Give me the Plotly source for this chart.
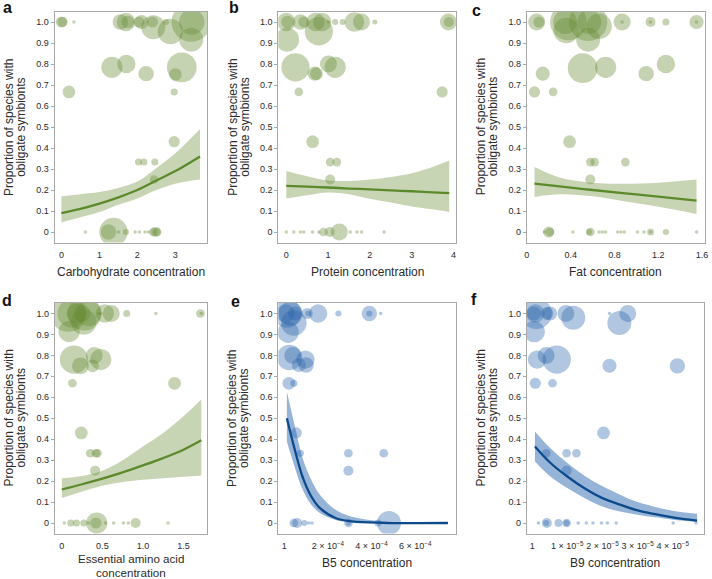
import plotly.graph_objects as go

W, H = 712, 579

# ---------------- data ----------------
# a: carbohydrate
a_x = [0.00, 0.03, 0.33, 1.55, 1.70, 1.75, 2.04, 2.11, 2.40, 2.42, 2.75, 2.87, 3.42, 3.43, 3.42,
       1.33, 1.71, 2.23, 3.17, 3.00, 0.20, 2.97, 2.97, 2.03, 2.17, 2.46, 2.44,
       1.24, 1.37, 1.70, 0.63, 1.50, 1.94, 2.05, 2.20, 2.29, 2.42, 2.48, 2.52]
a_y = [1.0, 1.0, 1.0, 1.0, 1.0, 1.0, 1.0, 1.0, 1.0, 0.975, 1.0, 0.955, 1.0, 1.0, 0.916,
       0.784, 0.80, 0.754, 0.784, 0.75, 0.667, 0.667, 0.43, 0.333, 0.333, 0.333, 0.25,
       0, 0, 0, 0, 0, 0, 0, 0, 0, 0, 0, 0]
a_n = [10, 8, 1, 19, 27, 13, 10, 16, 10, 46, 3, 52, 125, 52, 46,
       36, 27, 19, 71, 13, 13, 4, 10, 4, 4, 4, 6,
       19, 64, 3, 1, 1, 1, 1, 1, 1, 6, 8, 6]
a_fx = [0.0, 0.5, 1.0, 1.5, 2.0, 2.5, 3.0, 3.65]
a_fit = [0.09, 0.11, 0.135, 0.165, 0.20, 0.245, 0.29, 0.36]
a_lo = [0.045, 0.07, 0.095, 0.13, 0.16, 0.20, 0.23, 0.25]
a_hi = [0.17, 0.18, 0.19, 0.21, 0.24, 0.305, 0.375, 0.49]

# b: protein
b_x = [0.00, 0.03, 0.34, 0.42, 0.70, 0.86, 0.78, 1.01, 1.17, 1.35, 1.63, 1.80, 2.12, 3.88, 3.89,
       0.02, 0.22, 1.01, 1.17, 0.68, 0.72, 0.30, 3.73, 0.63, 1.05, 1.21, 1.05,
       0.89, 1.04, 1.27, 0.00, 0.18, 0.34, 0.42, 0.63, 0.78, 1.53, 1.69, 1.80, 2.34]
b_y = [1.0, 1.0, 1.0, 1.0, 1.0, 1.0, 0.956, 1.0, 1.0, 1.0, 1.0, 1.0, 1.0, 1.0, 1.0,
       0.916, 0.784, 0.80, 0.784, 0.754, 0.754, 0.667, 0.667, 0.43, 0.333, 0.333, 0.25,
       0, 0, 0, 0, 0, 0, 0, 0, 0, 0, 0, 0, 0]
b_n = [27, 13, 19, 10, 27, 27, 64, 1, 3, 3, 31, 23, 2, 23, 8,
       46, 64, 23, 36, 16, 13, 6, 10, 13, 6, 6, 8,
       6, 8, 23, 1, 1, 1, 1, 1, 1, 1, 1, 1, 1]
b_fx = [0.0, 0.5, 1.0, 1.5, 2.0, 2.5, 3.0, 3.5, 3.9]
b_fit = [0.22, 0.216, 0.212, 0.207, 0.203, 0.198, 0.194, 0.189, 0.185]
b_lo = [0.16, 0.175, 0.188, 0.18, 0.158, 0.14, 0.122, 0.108, 0.095]
b_hi = [0.29, 0.265, 0.245, 0.243, 0.25, 0.262, 0.28, 0.31, 0.34]

# c: fat
c_x = [0.09, 0.11, 0.35, 0.36, 0.38, 0.56, 0.57, 0.66, 0.56, 0.87, 0.87, 1.13, 1.13, 1.27, 1.55, 1.55,
       0.51, 0.72, 1.27, 1.09, 0.145, 0.07, 0.24, 0.39, 0.58, 0.62, 0.90, 0.58,
       0.20, 0.21, 0.58, 0.57, 1.13, 1.27,
       0.16, 0.42, 0.66, 0.69, 0.72, 0.83, 0.86, 0.89, 1.01, 1.07, 1.13, 1.55]
c_y = [1.0, 1.0, 1.0, 0.96, 1.0, 1.0, 1.0, 0.98, 0.916, 1.0, 1.0, 1.0, 1.0, 1.0, 1.0, 1.0,
       0.78, 0.784, 0.80, 0.754, 0.754, 0.667, 0.667, 0.43, 0.333, 0.333, 0.333, 0.25,
       0, 0, 0, 0, 0, 0,
       0, 0, 0, 0, 0, 0, 0, 0, 0, 0, 0, 0]
c_n = [23, 10, 46, 52, 108, 117, 46, 52, 46, 23, 1, 8, 1, 4, 16, 1,
       71, 36, 27, 19, 16, 10, 6, 13, 6, 6, 6, 8,
       10, 6, 6, 3, 4, 3,
       1, 1, 1, 1, 1, 1, 1, 1, 1, 1, 1, 1]
c_fx = [0.07, 0.3, 0.6, 0.9, 1.2, 1.55]
c_fit = [0.23, 0.217, 0.20, 0.184, 0.168, 0.149]
c_lo = [0.167, 0.18, 0.17, 0.145, 0.12, 0.086]
c_hi = [0.31, 0.26, 0.235, 0.23, 0.235, 0.25]

# d: essential amino acid
d_x = [0.08, 0.12, 0.18, 0.28, 0.33, 0.25, 0.27, 0.09, 0.48, 0.45, 0.53, 0.61, 0.80, 1.16, 1.71, 1.72,
       0.15, 0.23, 0.40, 0.48, 0.38, 0.13, 1.39, 0.24, 0.35, 0.42, 0.44, 0.41,
       0.11, 0.18, 0.27, 0.43, 0.42, 0.91, 0.03, 0.33, 0.54, 0.64, 0.76, 0.82, 1.31]
d_y = [1.0, 1.0, 1.0, 1.0, 1.0, 1.0, 0.96, 0.914, 1.0, 1.0, 1.0, 1.0, 1.0, 1.0, 1.0, 1.0,
       0.78, 0.75, 0.80, 0.78, 0.75, 0.667, 0.667, 0.43, 0.333, 0.333, 0.333, 0.25,
       0, 0, 0, 0, 0, 0, 0, 0, 0, 0, 0, 0, 0]
d_n = [108, 64, 31, 92, 52, 23, 52, 36, 1, 1, 27, 23, 4, 1, 6, 1,
       64, 23, 23, 36, 13, 6, 13, 13, 6, 6, 6, 8,
       4, 4, 4, 36, 10, 8, 1, 1, 1, 1, 1, 1, 1]
d_fx = [0.0, 0.25, 0.5, 0.75, 1.0, 1.25, 1.5, 1.72]
d_fit = [0.16, 0.185, 0.212, 0.242, 0.275, 0.31, 0.35, 0.395]
d_lo = [0.119, 0.15, 0.178, 0.196, 0.206, 0.214, 0.221, 0.227]
d_hi = [0.214, 0.225, 0.25, 0.30, 0.365, 0.43, 0.51, 0.59]

# e: B5
e_x = [0.06e-4, 0.14e-4, 0.29e-4, 0.44e-4, 0.50e-4, 1.05e-4, 1.10e-4, 1.55e-4, 2.48e-4, 3.90e-4, 3.90e-4, 4.42e-4, 0.18e-4,
       0.24e-4, 0.39e-4, 0.97e-4, 0.67e-4, 1.00e-4, 0.21e-4, 0.44e-4, 0.55e-4, 0.74e-4, 2.94e-4, 4.56e-4, 2.94e-4,
       0.44e-4, 0.59e-4, 0.92e-4, 1.12e-4, 1.27e-4, 2.94e-4, 2.94e-4, 4.30e-4, 4.80e-4]
e_y = [1.0, 1.0, 1.0, 0.955, 1.0, 1.0, 1.0, 1.0, 1.0, 1.0, 1.0, 1.0, 0.91,
       0.79, 0.80, 0.78, 0.754, 0.754, 0.667, 0.667, 0.43, 0.333, 0.333, 0.333, 0.25,
       0, 0, 0, 0, 0, 0, 0, 0, 0]
e_n = [27, 64, 46, 52, 16, 10, 3, 27, 3, 19, 3, 1, 36,
       52, 23, 27, 16, 19, 13, 4, 10, 4, 6, 6, 8,
       6, 8, 3, 1, 1, 6, 2, 4, 46]
e_fx = [0.12e-4, 0.47e-4, 0.84e-4, 1.22e-4, 1.6e-4, 2.35e-4, 3.1e-4, 4.5e-4, 7.5e-4]
e_fit = [0.50, 0.355, 0.22, 0.13, 0.075, 0.024, 0.008, 0.001, 0.0]
e_lo = [0.389, 0.27, 0.16, 0.09, 0.05, 0.014, 0.004, 0.0, 0.0]
e_hi = [0.627, 0.47, 0.31, 0.21, 0.14, 0.063, 0.03, 0.008, 0.001]

# f: B9
f_x = [0.05e-5, 0.09e-5, 0.12e-5, 0.42e-5, 0.51e-5, 0.96e-5, 1.17e-5, 2.20e-5, 2.72e-5, 2.48e-5, 0.06e-5,
       0.14e-5, 0.40e-5, 0.70e-5, 2.20e-5, 4.13e-5, 0.09e-5, 0.58e-5, 2.03e-5, 0.40e-5, 0.98e-5, 1.26e-5, 0.98e-5,
       0.42e-5, 0.40e-5, 0.75e-5, 0.98e-5, 0.98e-5,
       0.18e-5, 1.31e-5, 1.54e-5, 1.73e-5, 1.97e-5, 2.14e-5, 2.39e-5, 4.01e-5, 4.66e-5]
f_y = [1.0, 1.0, 1.0, 1.0, 1.0, 1.0, 0.98, 1.0, 1.0, 0.955, 0.913,
       0.78, 0.80, 0.78, 0.75, 0.75, 0.667, 0.667, 0.43, 0.333, 0.333, 0.333, 0.25,
       0, 0, 0, 0, 0,
       0, 0, 0, 0, 0, 0, 0, 0, 0]
f_n = [16, 27, 77, 13, 16, 23, 46, 1, 23, 46, 36,
       27, 23, 64, 16, 19, 10, 6, 13, 6, 6, 6, 8,
       8, 3, 5, 6, 3,
       1, 1, 1, 1, 1, 1, 1, 1, 1]
f_fx = [0.08e-5, 0.5e-5, 1.0e-5, 1.5e-5, 2.0e-5, 2.5e-5, 3.0e-5, 3.5e-5, 4.0e-5, 4.69e-5]
f_fit = [0.365, 0.29, 0.222, 0.165, 0.119, 0.088, 0.06, 0.042, 0.027, 0.011]
f_lo = [0.294, 0.225, 0.167, 0.118, 0.079, 0.055, 0.04, 0.027, 0.016, 0.005]
f_hi = [0.437, 0.36, 0.286, 0.225, 0.175, 0.135, 0.10, 0.077, 0.059, 0.044]

# tick labels
y_ticks = [0, 0.1, 0.2, 0.3, 0.4, 0.5, 0.6, 0.7, 0.8, 0.9, 1.0]
y_labels = ["0", "0.1", "0.2", "0.3", "0.4", "0.5", "0.6", "0.7", "0.8", "0.9", "1.0"]
a_ticks, a_labels = [0, 1, 2, 3], ["0", "1", "2", "3"]
b_ticks, b_labels = [0, 1, 2, 3, 4], ["0", "1", "2", "3", "4"]
c_ticks, c_labels = [0, 0.4, 0.8, 1.2, 1.6], ["0", "0.4", "0.8", "1.2", "1.6"]
d_ticks, d_labels = [0, 0.5, 1.0, 1.5], ["0", "0.5", "1.0", "1.5"]
e_ticks = [0, 2e-4, 4e-4, 6e-4]
e_labels = ["1", "2 × 10<sup>−4</sup>", "4 × 10<sup>−4</sup>", "6 × 10<sup>−4</sup>"]
f_ticks = [0, 1e-5, 2e-5, 3e-5, 4e-5]
f_labels = ["1", "1 × 10<sup>−5</sup>", "2 × 10<sup>−5</sup>", "3 × 10<sup>−5</sup>", "4 × 10<sup>−5</sup>"]

# ---------------- styling / layout ----------------
GREEN = dict(dot="rgba(105,140,55,0.55)", band="rgba(110,145,60,0.38)", line="#5b8a2b")
BLUE = dict(dot="rgba(40,100,170,0.52)", band="rgba(45,105,175,0.5)", line="#0d4a8c")
TXT = "#2b2b2b"
AXC = "#a8a8a8"
FONT = "Liberation Sans, Arial, sans-serif"

panels = [
    dict(letter="a", x=a_x, y=a_y, n=a_n, fx=a_fx, fit=a_fit, lo=a_lo, hi=a_hi, col=GREEN,
         ticks=a_ticks, labels=a_labels, xr=[-0.18, 3.84], box=(52, 206, 11.5, 242.5),
         xt=["Carbohydrate concentration"], lpos=(5, 7)),
    dict(letter="b", x=b_x, y=b_y, n=b_n, fx=b_fx, fit=b_fit, lo=b_lo, hi=b_hi, col=GREEN,
         ticks=b_ticks, labels=b_labels, xr=[-0.19, 4.07], box=(277.7, 457.2, 11.5, 242.5),
         xt=["Protein concentration"], lpos=(233, 7)),
    dict(letter="c", x=c_x, y=c_y, n=c_n, fx=c_fx, fit=c_fit, lo=c_lo, hi=c_hi, col=GREEN,
         ticks=c_ticks, labels=c_labels, xr=[0, 1.625], box=(528.3, 707.7, 11.5, 242.5),
         xt=["Fat concentration"], lpos=(478, 10)),
    dict(letter="d", x=d_x, y=d_y, n=d_n, fx=d_fx, fit=d_fit, lo=d_lo, hi=d_hi, col=GREEN,
         ticks=d_ticks, labels=d_labels, xr=[-0.086, 1.79], box=(52.3, 205.7, 303, 533.5),
         xt=["Essential amino acid", "concentration"], lpos=(4, 300)),
    dict(letter="e", x=e_x, y=e_y, n=e_n, fx=e_fx, fit=e_fit, lo=e_lo, hi=e_hi, col=BLUE,
         ticks=e_ticks, labels=e_labels, xr=[-0.27e-4, 7.89e-4], box=(277.7, 457.3, 303, 533.5),
         xt=["B5 concentration"], lpos=(234, 301)),
    dict(letter="f", x=f_x, y=f_y, n=f_n, fx=f_fx, fit=f_fit, lo=f_lo, hi=f_hi, col=BLUE,
         ticks=f_ticks, labels=f_labels, xr=[-0.15e-5, 4.88e-5], box=(528.3, 706.7, 303, 533.5),
         xt=["B9 concentration"], lpos=(475, 299)),
]

fig = go.Figure()
annotations = []
layout_axes = {}

def px(xp):
    return xp / W

def py(yp):
    return 1 - yp / H

for i, p in enumerate(panels):
    k = "" if i == 0 else str(i + 1)
    xa, ya = "x" + k, "y" + k
    col = p["col"]
    # confidence band
    fig.add_trace(go.Scatter(x=p["fx"], y=p["lo"], mode="lines", line=dict(width=0, shape="spline"),
                             hoverinfo="skip", showlegend=False, xaxis=xa, yaxis=ya))
    fig.add_trace(go.Scatter(x=p["fx"], y=p["hi"], mode="lines", line=dict(width=0, shape="spline"),
                             fill="tonexty", fillcolor=col["band"], hoverinfo="skip",
                             showlegend=False, xaxis=xa, yaxis=ya))
    # bubbles
    fig.add_trace(go.Scatter(x=p["x"], y=p["y"], mode="markers",
                             marker=dict(size=p["n"], sizemode="area", sizeref=0.16, sizemin=1.5,
                                         color=col["dot"], line=dict(width=0)),
                             showlegend=False, xaxis=xa, yaxis=ya))
    # fitted line
    fig.add_trace(go.Scatter(x=p["fx"], y=p["fit"], mode="lines",
                             line=dict(color=col["line"], width=2.3, shape="spline"),
                             showlegend=False, xaxis=xa, yaxis=ya))

    l, r, t, b = p["box"]
    layout_axes["xaxis" + k] = dict(
        domain=[px(l), px(r)], range=p["xr"], anchor=ya, showgrid=False, zeroline=False,
        showline=True, mirror=True, linecolor=AXC, linewidth=1, ticks="",
        tickvals=p["ticks"], ticktext=p["labels"], tickfont=dict(size=9, color=TXT, family=FONT),
        ticklabelstandoff=4)
    layout_axes["yaxis" + k] = dict(
        domain=[py(b), py(t)], range=[-0.05, 1.05], anchor=xa, showgrid=False, zeroline=False,
        showline=True, mirror=True, linecolor=AXC, linewidth=1, ticks="outside", ticklen=3,
        tickcolor=AXC, tickvals=y_ticks, ticktext=y_labels,
        tickfont=dict(size=9, color=TXT, family=FONT))

    cy = (t + b) / 2
    for off, txt in [(-46, "Proportion of species with"), (-34, "obligate symbionts")]:
        annotations.append(dict(x=px(l + off), y=py(cy), xref="paper", yref="paper", text=txt,
                                textangle=-90, showarrow=False, xanchor="center", yanchor="middle",
                                font=dict(size=12, color=TXT, family=FONT)))
    cx = (l + r) / 2
    nlines = len(p["xt"])
    for j, txt in enumerate(p["xt"]):
        yline = b + 29 if nlines == 1 else b + 25 + 13.5 * j
        annotations.append(dict(x=px(cx), y=py(yline), xref="paper", yref="paper",
                                text=txt, showarrow=False, xanchor="center", yanchor="middle",
                                font=dict(size=12 if nlines == 1 else 11.6, color=TXT, family=FONT)))
    lx, ly = p["lpos"]
    annotations.append(dict(x=px(lx), y=py(ly), xref="paper", yref="paper",
                            text="<b>" + p["letter"] + "</b>", showarrow=False,
                            xanchor="center", yanchor="middle",
                            font=dict(size=16, color="#111", family=FONT)))

fig.update_layout(width=W, height=H, margin=dict(l=0, r=0, t=0, b=0),
                  paper_bgcolor="white", plot_bgcolor="white",
                  annotations=annotations, **layout_axes)

fig.write_html("out.html", config={"displayModeBar": False},
               post_script="document.body.style.margin='0';")
